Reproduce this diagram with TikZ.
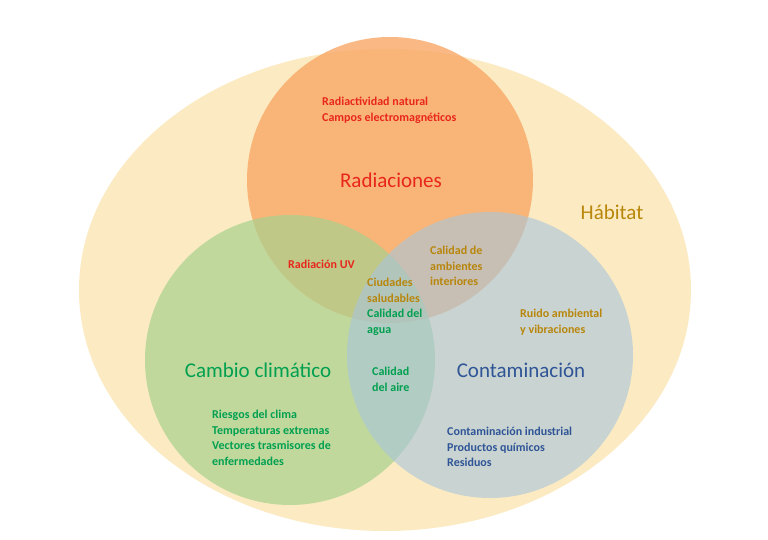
\documentclass[tikz,border=0pt]{standalone}
\usepackage{fontspec}
\setmainfont{Carlito}
\usetikzlibrary{shapes.geometric}
\definecolor{hab}{HTML}{FCEBC2}
\definecolor{cor}{HTML}{F9A866}
\definecolor{cgr}{HTML}{A9D18E}
\definecolor{cbl}{HTML}{A7C4DC}
\definecolor{tred}{HTML}{E8261C}
\definecolor{tgold}{HTML}{B8860B}
\definecolor{tgrn}{HTML}{00A050}
\definecolor{tblu}{HTML}{2F5597}
\tikzset{lab/.style={font=\bfseries\fontsize{12}{15.5}\selectfont,align=left,inner sep=0pt,anchor=north west},
big/.style={font=\fontsize{21}{24}\selectfont,inner sep=0pt}}
\begin{document}
\begin{tikzpicture}[x=1pt,y=-1pt]
\useasboundingbox (0,0) rectangle (768,540);
\fill[white] (0,0) rectangle (768,540);
\node[ellipse,fill=hab,minimum width=612,minimum height=482,inner sep=0] (hab) at (385,290) {};
\fill[cor,opacity=0.8] (390,180) circle (143);
\fill[cgr,opacity=0.7] (290,360) circle (145);
\fill[cbl,opacity=0.6] (490,355) circle (143);
\node[lab,text=tred] (r1) at (322,97) {Radiactividad natural\\Campos electromagnéticos};
\node[big,text=tred] (rad) at (391,180) {Radiaciones};
\node[big,text=tgold] (h) at (612,212) {Hábitat};
\node[lab,text=tred] (uv) at (288,260) {Radiación UV};
\node[lab,text=tgold] (amb) at (430,246) {Calidad de\\ambientes\\interiores};
\node[lab,text=tgold] (ciu) at (367,278) {Ciudades\\saludables};
\node[lab,text=tgrn] (agua) at (367,309) {Calidad del\\agua};
\node[lab,text=tgold] (ruido) at (520,309) {Ruido ambiental\\y vibraciones};
\node[big,text=tgrn] (cc) at (258,370) {Cambio climático};
\node[big,text=tblu] (cont) at (521,370) {Contaminación};
\node[lab,text=tgrn] (aire) at (372,367) {Calidad\\del aire};
\node[lab,text=tgrn] (ries) at (212,410) {Riesgos del clima\\Temperaturas extremas\\Vectores trasmisores de\\enfermedades};
\node[lab,text=tblu] (ind) at (447,427) {Contaminación industrial\\Productos químicos\\Residuos};
\end{tikzpicture}
\end{document}
